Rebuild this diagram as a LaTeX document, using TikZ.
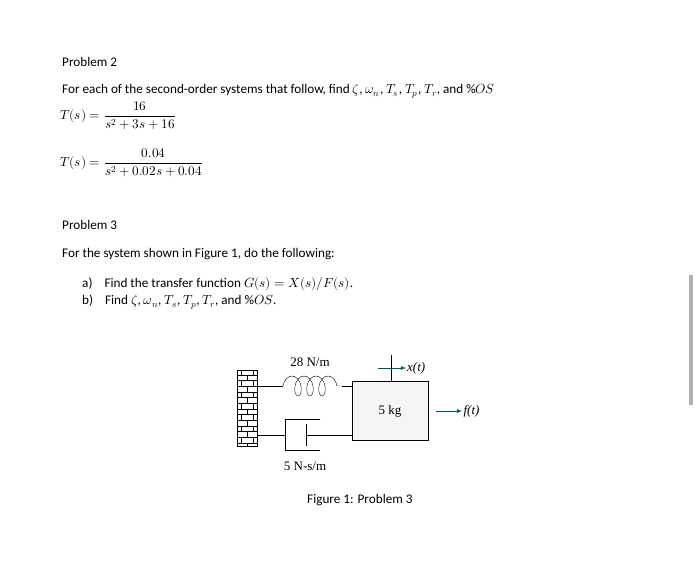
\documentclass[tikz,border=0pt]{standalone}
\usepackage{amsmath}
\usepackage{fontspec}
\usepackage{unicode-math}
\setmainfont{Carlito}
\setmathfont{Latin Modern Math}
\newfontfamily\figfont{Liberation Serif}
\usetikzlibrary{arrows,decorations.pathmorphing,patterns}

\begin{document}
\begin{tikzpicture}[x=1pt,y=-1pt]
    \tikzset{txt/.style={anchor=west, inner sep=0pt, font=\fontsize{13.2}{15}\selectfont},
             lbl/.style={inner sep=1pt, font=\figfont\fontsize{13}{15}\selectfont},
             arr/.style={-latex, draw=teal!70!black, thick}}
    \useasboundingbox[fill=white] (0,0) rectangle (700,577);
    \fill[gray!60] (689,275) rectangle (693,405);

    \node[txt] (p2) at (62, 62) {Problem 2};
    \node[txt] (q2) at (62, 91) {For each of the second-order systems that follow, find $\zeta$, $\omega_n$, $T_s$, $T_p$, $T_r$, and \%$OS$};
    \node[txt] (t1) at (60, 116) {$T(s)=\dfrac{16}{s^2+3s+16}$};
    \node[txt] (t2) at (60, 163) {$T(s)=\dfrac{0.04}{s^2+0.02s+0.04}$};

    \node[txt] (p3) at (62, 225) {Problem 3};
    \node[txt] (q3) at (62, 254) {For the system shown in Figure 1, do the following:};
    \node[txt] (qa) at (82, 284) {a)\hspace{12pt}Find the transfer function $G(s)=X(s)/F(s)$.};
    \node[txt] (qb) at (82, 302) {b)\hspace{12pt}Find $\zeta$, $\omega_n$, $T_s$, $T_p$, $T_r$, and \%$OS$.};

    % wall and mass
    \node[draw, thick, fill=gray!40, pattern=bricks, minimum width=20pt, minimum height=76pt, inner sep=0pt] (wall) at (247, 408) {};
    \node[draw, fill=gray!8, minimum width=76pt, minimum height=59pt, inner sep=0pt, lbl] (mass) at (390, 411) {5 kg};

    % spring
    \coordinate (s0) at (257, 386);
    \coordinate (s1) at (283, 386);
    \coordinate (s2) at (342, 386);
    \coordinate (s3) at (352, 386);
    \draw (s0) -- (s1);
    \draw[decorate, decoration={coil, aspect=0.6, segment length=12pt, amplitude=10pt}] (s1) -- (s2);
    \draw (s2) -- (s3);
    \node[lbl] (k) at (310, 362) {28 N/m};

    % damper
    \coordinate (d0) at (257, 435);
    \coordinate (d1) at (306, 435);
    \coordinate (d2) at (352, 435);
    \draw (d0) -- (285, 435);
    \draw (320, 419) -- (285, 419) -- (285, 450) -- (320, 450);
    \draw (306, 424) -- (306, 446);
    \draw (d1) -- (d2);
    \node[lbl] (b) at (305, 466) {5 N-s/m};

    % displacement and force
    \coordinate (x0) at (391, 355);
    \coordinate (x1) at (391, 382);
    \draw (x0) -- (x1);
    \draw[arr] (378, 368) -- (406, 368);
    \node[lbl, anchor=west] (x) at (406, 368) {\itshape x(t)};
    \draw[arr] (mass.east) ++(8,0) -- ++(26,0) node[lbl, anchor=west, black] (f) {\itshape f(t)};

    \node[txt] (cap) at (307, 500) {Figure 1: Problem 3};
\end{tikzpicture}
\end{document}
